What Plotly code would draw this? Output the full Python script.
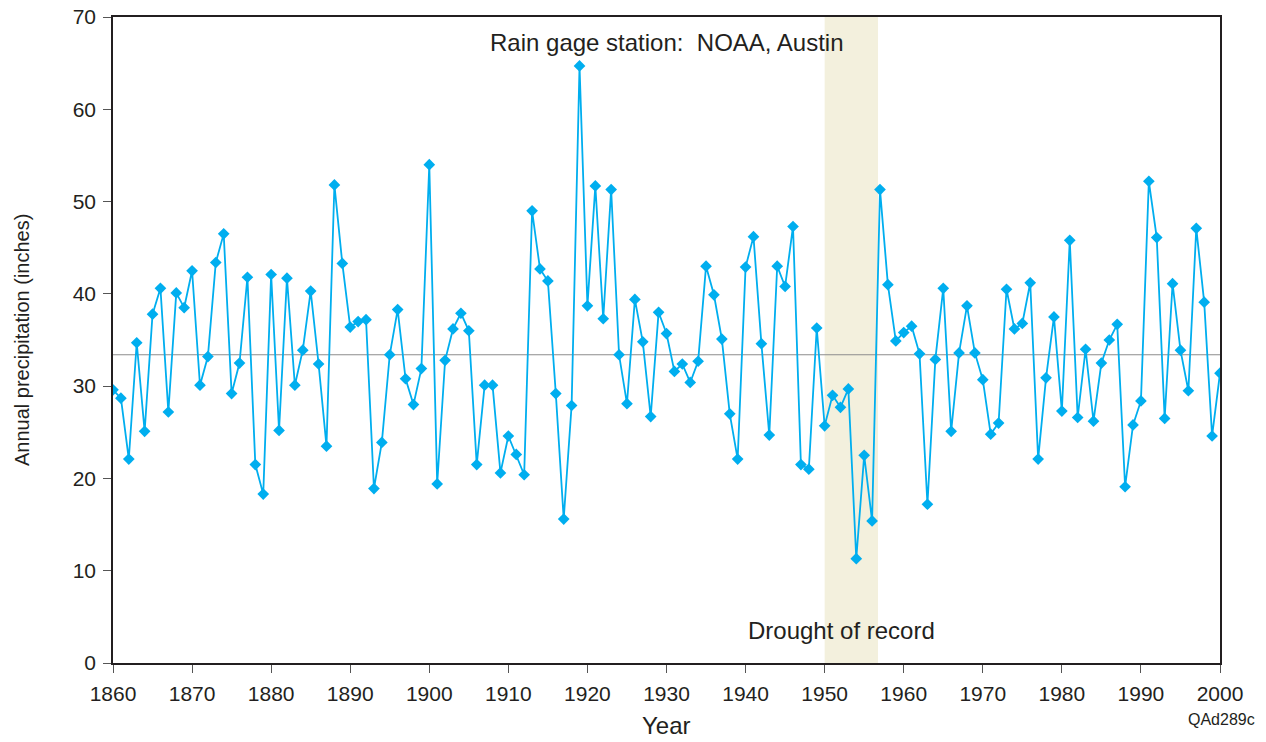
import plotly.graph_objects as go

years = list(range(1860, 2001))
precip = [
    29.6, 28.7, 22.1, 34.7, 25.1, 37.8, 40.6, 27.2, 40.1, 38.5,  # 1860s
    42.5, 30.1, 33.2, 43.4, 46.5, 29.2, 32.5, 41.8, 21.5, 18.3,  # 1870s
    42.1, 25.2, 41.7, 30.1, 33.9, 40.3, 32.4, 23.5, 51.8, 43.3,  # 1880s
    36.4, 37.0, 37.2, 18.9, 23.9, 33.4, 38.3, 30.8, 28.0, 31.9,  # 1890s
    54.0, 19.4, 32.8, 36.2, 37.9, 36.0, 21.5, 30.1, 30.1, 20.6,  # 1900s
    24.6, 22.6, 20.4, 49.0, 42.7, 41.4, 29.2, 15.6, 27.9, 64.7,  # 1910s
    38.7, 51.7, 37.3, 51.3, 33.4, 28.1, 39.4, 34.8, 26.7, 38.0,  # 1920s
    35.7, 31.6, 32.4, 30.4, 32.7, 43.0, 39.9, 35.1, 27.0, 22.1,  # 1930s
    42.9, 46.2, 34.6, 24.7, 43.0, 40.8, 47.3, 21.5, 21.0, 36.3,  # 1940s
    25.7, 29.0, 27.7, 29.7, 11.3, 22.5, 15.4, 51.3, 41.0, 34.9,  # 1950s
    35.8, 36.5, 33.5, 17.2, 32.9, 40.6, 25.1, 33.6, 38.7, 33.6,  # 1960s
    30.7, 24.8, 26.0, 40.5, 36.2, 36.8, 41.2, 22.1, 30.9, 37.5,  # 1970s
    27.3, 45.8, 26.6, 34.0, 26.2, 32.5, 35.0, 36.7, 19.1, 25.8,  # 1980s
    28.4, 52.2, 46.1, 26.5, 41.1, 33.9, 29.5, 47.1, 39.1, 24.6,  # 1990s
    31.4,                                                        # 2000
]
mean_precip = 33.4
drought_start, drought_end = 1950, 1956.75
x_ticks = list(range(1860, 2001, 10))
y_ticks = list(range(0, 71, 10))

line_color = "#00AEEF"
text_color = "#231F20"
font_family = "Liberation Sans, Arial, sans-serif"

fig = go.Figure()

fig.add_vrect(x0=drought_start, x1=drought_end, fillcolor="#F3F0DD",
              line_width=0, layer="below")

fig.add_trace(go.Scatter(
    x=[years[0], years[-1]], y=[mean_precip, mean_precip], mode="lines",
    line=dict(color="#8C8C8C", width=1.2), hoverinfo="skip", showlegend=False))

fig.add_trace(go.Scatter(
    x=years, y=precip, mode="lines+markers",
    line=dict(color=line_color, width=1.8),
    marker=dict(symbol="diamond", size=9, color=line_color),
    showlegend=False))

fig.add_annotation(x=0.5, y=0.961, xref="paper", yref="paper", yanchor="middle",
                   text="Rain gage station:  NOAA, Austin", showarrow=False,
                   font=dict(size=24, color=text_color, family=font_family))
fig.add_annotation(x=0.6585, y=0.051, xref="paper", yref="paper", yanchor="middle",
                   text="Drought of record", showarrow=False,
                   font=dict(size=24, color=text_color, family=font_family))
fig.add_annotation(x=1.001, y=-0.088, xref="paper", yref="paper", xanchor="center",
                   yanchor="middle", text="QAd289c", showarrow=False,
                   font=dict(size=16, color=text_color, family=font_family))
# axis titles
fig.add_annotation(x=0, y=0.5, xref="paper", yref="paper", xanchor="center",
                   yanchor="middle", xshift=-91, textangle=-90,
                   text="Annual precipitation (inches)", showarrow=False,
                   font=dict(size=20, color=text_color, family=font_family))
fig.add_annotation(x=0.5, y=0, xref="paper", yref="paper", xanchor="center",
                   yanchor="middle", yshift=-62,
                   text="Year", showarrow=False,
                   font=dict(size=24, color=text_color, family=font_family))

fig.update_layout(
    width=1266, height=742,
    margin=dict(l=113, r=46, t=17, b=79),
    paper_bgcolor="white", plot_bgcolor="white",
    font=dict(family=font_family, color=text_color),
    xaxis=dict(range=[1860, 2000], tickvals=x_ticks, ticks="outside", ticklen=8,
               tickcolor="#555555", tickwidth=1.2, automargin=False,
               ticklabeloverflow="allow",
               showline=True, linecolor=text_color, linewidth=1.5, mirror=True,
               showgrid=False, zeroline=False,
               tickfont=dict(size=21, color=text_color), ticklabelstandoff=3),
    yaxis=dict(range=[0, 70], tickvals=y_ticks, ticks="outside", ticklen=8,
               tickcolor="#555555", tickwidth=1.2, automargin=False,
               ticklabeloverflow="allow",
               showline=True, linecolor=text_color, linewidth=1.5, mirror=True,
               showgrid=False, zeroline=False,
               tickfont=dict(size=21, color=text_color), ticklabelstandoff=3),
)

fig.write_html("out.html",
               config={"displayModeBar": False},
               post_script="document.body.style.margin='0';document.body.style.overflow='hidden';")
